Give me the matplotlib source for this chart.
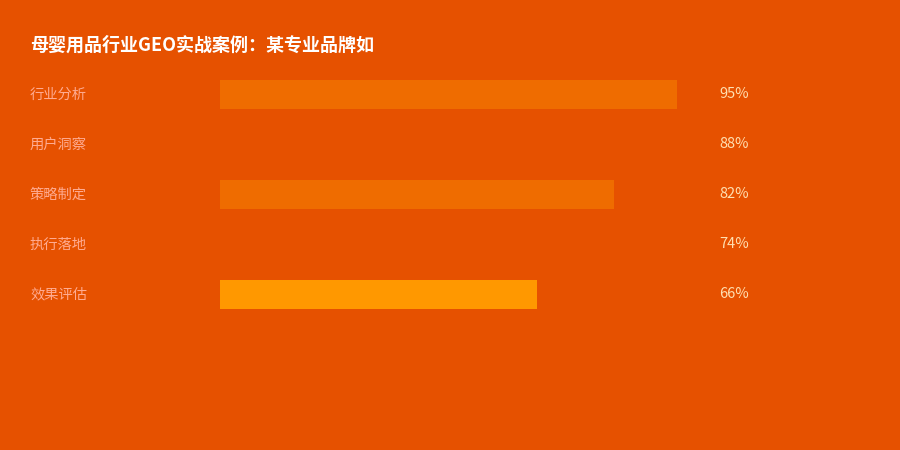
import matplotlib.pyplot as plt
from matplotlib.transforms import blended_transform_factory

plt.rcParams["font.family"] = ["Noto Sans CJK SC", "DejaVu Sans"]

categories = ["行业分析", "用户洞察", "策略制定", "执行落地", "效果评估"]
values = [95, 88, 82, 74, 66]
bar_colors = ["#EF6C00", "#E65100", "#EF6C00", "#E65100", "#FF9800"]
title = "母婴用品行业GEO实战案例：某专业品牌如"

BG = "#E65100"
fig = plt.figure(figsize=(9, 4.5), dpi=100, facecolor=BG)
ax = fig.add_axes([220 / 900, 130.5 / 450, 481 / 900, 250 / 450])
ax.set_facecolor(BG)

ypos = list(range(len(categories)))
ax.barh(ypos, values, height=0.59, color=bar_colors, linewidth=0)
ax.set_xlim(0, 100)
ax.set_ylim(len(categories) - 0.5, -0.5)
ax.axis("off")

tr = blended_transform_factory(fig.transFigure, ax.transData)
for y, lab, v in zip(ypos, categories, values):
    ax.text(30 / 900, y, lab, transform=tr, ha="left", va="center",
            fontsize=10.3, color="#FFAB91")
    ax.text(719 / 900, y, f"{v}%", transform=tr, ha="left", va="center",
            fontsize=10.5, color="#FFE0B2")

fig.text(30 / 900, 1 - 45 / 450, title, ha="left", va="center",
         fontsize=13, fontweight="bold", color="white")

fig.savefig("out.png", dpi=100, facecolor=BG)
